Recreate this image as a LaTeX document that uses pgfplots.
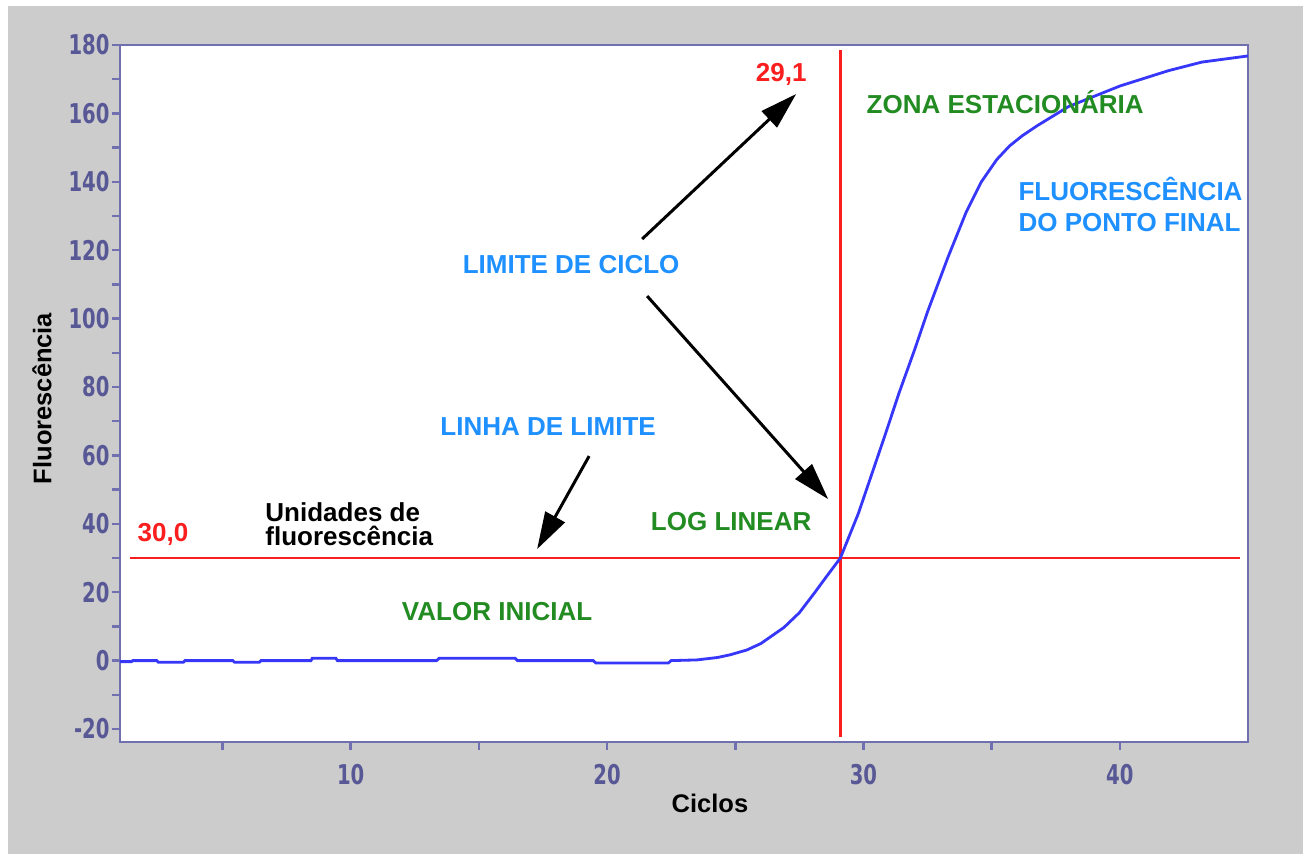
\documentclass[border=0pt]{standalone}
\usepackage{pgfplots}
\pgfplotsset{compat=1.18}
\usepackage{fontspec}
\setmainfont{Liberation Sans}
\newfontfamily\tickfont{DejaVu Sans Condensed}
\usetikzlibrary{arrows.meta}
\definecolor{bggray}{RGB}{204,204,204}
\definecolor{axisblue}{RGB}{112,112,176}
\definecolor{ticktext}{RGB}{88,88,150}
\definecolor{curveblue}{RGB}{55,55,250}
\definecolor{limred}{RGB}{250,30,30}
\definecolor{zonegreen}{RGB}{34,139,34}
\definecolor{notesblue}{RGB}{30,144,255}

\begin{document}
\begin{tikzpicture}
\fill[white] (0,0) rectangle (26.06cm,17.08cm);
\fill[bggray] (0.16cm,0) rectangle (26.06cm,16.96cm);
\useasboundingbox (0,0) rectangle (26.06cm,17.08cm);
\begin{axis}[
  at={(2.4cm,2.24cm)}, anchor=south west,
  scale only axis, width=22.56cm, height=13.94cm,
  xmin=1, xmax=45, ymin=-23.8, ymax=180,
  axis background/.style={fill=white},
  axis line style={axisblue, line width=1.4pt},
  tick pos=left, tick align=outside,
  xtick={10,20,30,40}, minor xtick={5,15,25,35},
  ytick={-20,0,20,40,60,80,100,120,140,160,180},
  minor ytick={-10,10,30,50,70,90,110,130,150,170},
  major tick length=0.16cm, minor tick length=0.16cm,
  tick style={axisblue, line width=1.4pt},
  /pgf/number format/assume math mode=true,
  ticklabel style={font=\tickfont\bfseries\fontsize{15.5}{17}\selectfont, text=ticktext, xscale=0.8, transform shape},
  xticklabel style={yshift=-0.16cm},
  yticklabel style={xshift=0.06cm},
  xlabel={Ciclos}, ylabel={Fluorescência},
  label style={font=\bfseries\fontsize{14.5}{17}\selectfont},
  xlabel style={at={(axis description cs:0.523,-0.0875)}, anchor=center},
  ylabel style={at={(axis description cs:-0.0691,0.4928)}, anchor=center},
]
% linha de limite e limite de ciclo
\addplot[limred, line width=1.6pt] coordinates {(1.39,30) (44.7,30)};
\addplot[limred, line width=1.6pt] coordinates {(29.1,178.5) (29.1,-22.4)};
% curva de amplificação
\addplot[curveblue, line width=1.6pt] coordinates {
  (1,-0.3) (1.45,-0.3) (1.5,0) (2.43,0) (2.5,-0.5) (3.47,-0.5) (3.54,0)
  (5.4,0) (5.47,-0.5) (6.43,-0.5) (6.5,0) (8.45,0) (8.5,0.7) (9.42,0.7)
  (9.48,0) (13.35,0) (13.45,0.7) (16.41,0.7) (16.5,0) (19.46,0)
  (19.56,-0.7) (22.39,-0.7) (22.5,0) (23.5,0.2) (24.3,0.9) (24.8,1.7)
  (25.45,3.1) (26,5) (26.9,9.7) (27.5,14) (28.1,19.9) (28.6,25)
  (29.1,30) (29.8,43) (30.3,54) (30.8,65) (31.4,78.5) (32,91)
  (32.5,102) (33.3,118) (34,131) (34.6,140) (35.2,146.5) (35.7,150.5)
  (36.2,153.5) (36.8,156.5) (38,162) (40,168) (41.9,172.5) (43.2,175)
  (45,176.8)
};
\end{axis}
\begin{scope}[x=0.02cm, y=-0.02cm, shift={(0cm,17.08cm)},
  every node/.style={font=\bfseries\fontsize{14.8}{18}\selectfont, inner sep=0pt}]
\node[anchor=base, text=limred] at (781,81.5) {29,1};
\node[anchor=base, text=limred] at (163,541.7) {30,0};
\node[anchor=base, text=zonegreen] at (1005,113) {ZONA ESTACIONÁRIA};
\node[anchor=base west, text=notesblue] at (1018,200) {FLUORESCÊNCIA};
\node[anchor=base west, text=notesblue] at (1018,231.7) {DO PONTO FINAL};
\node[anchor=base, text=notesblue] at (571,273) {LIMITE DE CICLO};
\node[anchor=base, text=notesblue] at (548,435) {LINHA DE LIMITE};
\node[anchor=base west] at (265,521.7) {Unidades de};
\node[anchor=base west] at (265,545) {fluorescência};
\node[anchor=base, text=zonegreen] at (731,530) {LOG LINEAR};
\node[anchor=base, text=zonegreen] at (497,620.7) {VALOR INICIAL};
\draw[line width=1.7pt, -{Triangle[length=0.74cm, width=0.44cm]}] (642,239) -- (796,94);
\draw[line width=1.7pt, -{Triangle[length=0.74cm, width=0.44cm]}] (647,296) -- (828,499);
\draw[line width=1.7pt, -{Triangle[length=0.74cm, width=0.44cm]}] (589,456) -- (537,549);
\end{scope}
\end{tikzpicture}
\end{document}
